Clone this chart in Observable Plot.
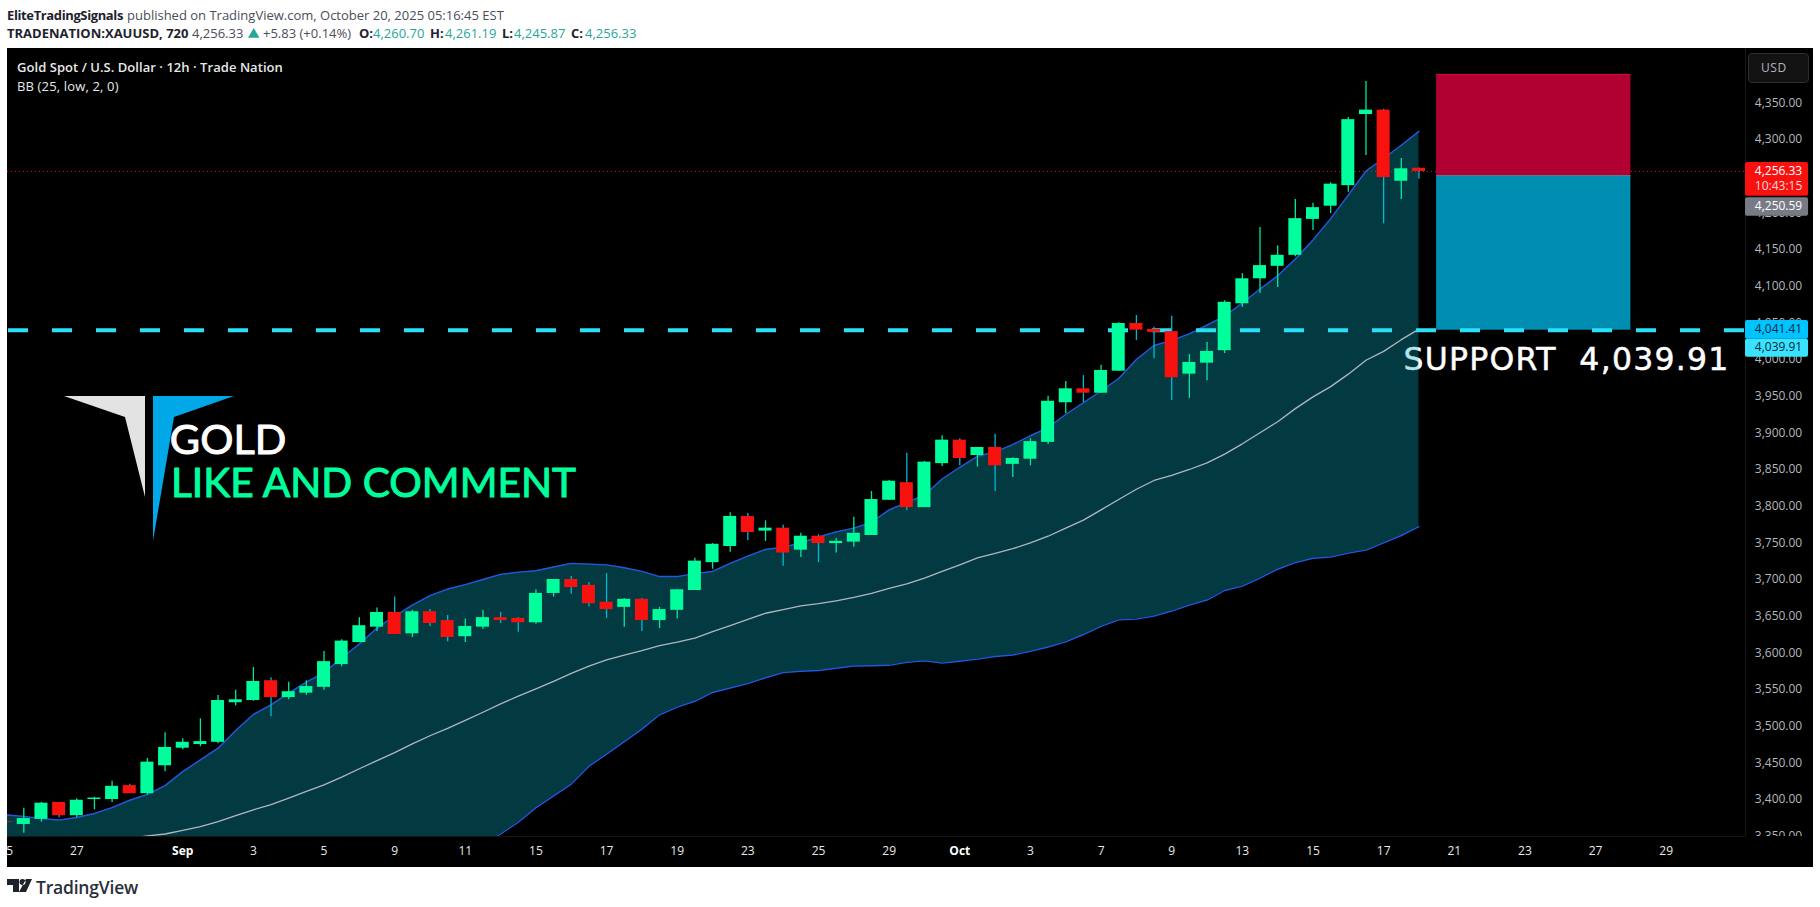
<!DOCTYPE html>
<html>
<head>
<meta charset="utf-8">
<script src="https://cdn.jsdelivr.net/npm/d3@7"></script>
<script src="https://cdn.jsdelivr.net/npm/@observablehq/plot@0.6"></script>
<style>
html,body{margin:0;padding:0;background:#fff;width:1820px;height:907px;overflow:hidden;font-family:"Open Sans",sans-serif;}
.t{position:absolute;white-space:nowrap;font-size:13px;line-height:16px;color:#4a4e59;}
.b{font-weight:700;color:#1e222d;}
.g{color:#26a69a;}
.w{color:#e8e8e8;}
#chart{position:absolute;left:7px;top:48px;width:1806px;height:819px;}
#chart svg{display:block;}
.shape{position:absolute;left:0;top:0;width:1820px;height:907px;}
#usd{position:absolute;left:1748px;top:53px;width:47px;height:28px;padding-left:12px;background:#131313;border:1px solid #2a2e30;border-radius:4px;color:#b2b5be;font-size:12px;line-height:28px;text-align:left;letter-spacing:.6px;box-sizing:content-box;}
.support text{letter-spacing:1.25px;}
</style>
</head>
<body>
<div class="t b" style="left:7px;top:7px;letter-spacing:-.38px;">EliteTradingSignals</div>
<div class="t" style="left:127px;top:7px;">published on TradingView.com, October 20, 2025 05:16:45 EST</div>
<div class="t b" style="left:7px;top:25px;">TRADENATION:XAUUSD, 720</div>
<div class="t" style="left:192px;top:25px;">4,256.33</div>
<div class="shape" style="background:#26a69a;clip-path:polygon(253.7px 28px,259.5px 37.7px,248px 37.7px);"></div>
<div class="t" style="left:263px;top:25px;">+5.83 (+0.14%)</div>
<div class="t b" style="left:359px;top:25px;">O:</div><div class="t g" style="left:373px;top:25px;">4,260.70</div>
<div class="t b" style="left:430px;top:25px;">H:</div><div class="t g" style="left:445px;top:25px;">4,261.19</div>
<div class="t b" style="left:502px;top:25px;">L:</div><div class="t g" style="left:514px;top:25px;">4,245.87</div>
<div class="t b" style="left:571px;top:25px;">C:</div><div class="t g" style="left:585px;top:25px;">4,256.33</div>

<div id="chart"></div>

<div class="t w" style="left:17px;top:59px;font-weight:600;letter-spacing:.05px;">Gold Spot / U.S. Dollar · 12h · Trade Nation</div>
<div class="t w" style="left:17px;top:78px;letter-spacing:.15px;">BB (25, low, 2, 0)</div>
<div id="usd">USD</div>

<div class="shape" style="background:#e3e3e3;clip-path:polygon(64px 396px,145px 396px,145px 497px,125px 417px);"></div>
<div class="shape" style="background:#00a8e8;clip-path:polygon(153px 396px,234px 396px,174px 417px,153px 541px);"></div>

<div class="shape" style="background:#1e222d;clip-path:path('M7 879H19V892H13V885H7ZM19.5 882a3 3 0 1 0 6 0a3 3 0 1 0 -6 0ZM26 879H32L26 892H19Z');"></div>
<div class="t" style="left:36px;top:875px;font-size:17.5px;line-height:24px;font-weight:600;color:#2a2e39;letter-spacing:-.2px;">TradingView</div>

<script>
// Bars run from index -1 (clipped at the left edge) to 79.
const opens = [3370,
  3366,3373,3396,3378,3400,3400,3419,3408,3446,3470,
  3475,3478,3532,3535,3562,3539,3545,3553,3584,3614,
  3635,3655,3626,3656,3644,3622,3635,3648,3647,3641,
  3681,3700,3692,3669,3662,3673,3644,3658,3685,3723,
  3745,3786,3766,3770,3740,3759,3749,3751,3760,3808,
  3832,3798,3858,3890,3869,3880,3857,3864,3887,3941,
  3960,3954,3984,4049,4041,4038,3980,3995,4012,4076,
  4110,4127,4142,4191,4209,4237,4334,4340,4243,4260.70];
const highs = [3371,
  3388,3396,3396,3401,3403,3425,3421,3456,3491,3483,
  3510,3542,3549,3580,3566,3560,3562,3602,3618,3648,
  3661,3676,3658,3659,3651,3646,3658,3655,3648,3686,
  3700,3704,3696,3708,3674,3674,3662,3686,3729,3749,
  3791,3790,3780,3774,3763,3761,3756,3785,3820,3835,
  3872,3861,3896,3892,3880,3898,3866,3892,3950,3970,
  3978,3992,4050,4060,4044,4059,4007,4023,4080,4117,
  4180,4155,4218,4213,4241,4330,4379,4341,4274,4261.19];
const lows = [3368,
  3354,3369,3375,3375,3386,3396,3408,3406,3438,3468,
  3472,3476,3528,3534,3513,3536,3542,3549,3581,3614,
  3629,3625,3621,3636,3615,3614,3632,3640,3628,3639,
  3676,3680,3663,3647,3635,3629,3633,3646,3685,3714,
  3737,3753,3752,3718,3730,3723,3736,3744,3760,3808,
  3794,3798,3854,3855,3853,3820,3839,3855,3884,3926,
  3941,3954,3984,4026,4001,3944,3947,3971,4008,4071,
  4090,4098,4140,4176,4199,4228,4278,4185,4218,4245.87];
const closes = [3369,
  3374,3395,3378,3399,3402,3418,3408,3451,3471,3478,
  3479,3535,3536,3561,3539,3547,3554,3588,3616,3637,
  3655,3625,3656,3640,3621,3636,3648,3644,3641,3681,
  3700,3689,3667,3659,3673,3644,3659,3686,3725,3748,
  3786,3764,3770,3736,3759,3749,3752,3763,3809,3834,
  3798,3860,3890,3865,3880,3855,3865,3888,3943,3960,
  3954,3985,4049,4040,4037,3975,3996,4011,4078,4110,
  4128,4142,4192,4207,4239,4327,4340,4248,4260,4256.33];
const bbUpper = [3379,
  3377,3374,3372,3375.5,3381,3389,3399,3407,3419,3438,
  3454,3470,3494,3516,3529,3545,3560,3573,3593,3612,
  3634,3650,3665,3678,3687,3693,3700,3707,3710,3712,
  3717,3722,3721,3720,3716,3711,3704,3704,3708,3711,
  3722,3732,3741,3744,3750,3758,3765,3770,3778,3795,
  3805,3815,3837,3853,3868,3874,3884,3896,3907,3925,
  3941,3957,3974,4000,4019,4026,4035,4047,4059,4077,
  4096,4114,4137,4163,4192,4224,4257,4274,4292,4311];
const bbBasis = [3325,
  3328,3331,3334,3337,3340,3344,3347,3350.5,3353,3358,
  3363,3370,3378,3386,3393,3402,3411,3420,3430.5,3442,
  3453,3464,3476,3487,3497,3508,3519,3530.5,3541,3551,
  3561,3572,3582,3590.5,3597,3603,3610,3614.5,3620,3629,
  3637,3645.5,3654,3659,3664,3667,3671,3675.5,3681,3688,
  3694,3702,3711,3720,3729.5,3735.5,3742,3750,3759,3770,
  3781,3795,3809,3823,3835,3842,3850,3859,3871,3885,
  3900,3915,3933,3949,3963,3980,3999,4011,4027,4041.41];
const bbLower = [3271,
  3279,3288,3296,3298,3293,3299,3295,3294,3287,3278,
  3272,3270,3262,3256,3257,3259,3262,3267,3268,3272,
  3272,3278,3287,3296,3307,3322,3338,3353,3369,3389,
  3405,3421,3445.5,3462,3479,3496,3515.5,3526,3534,3546,
  3552,3558,3566,3573,3575,3576,3579,3582,3582.5,3583,
  3587,3589,3586,3588.5,3591.5,3595,3597,3602,3608,3615,
  3625,3636,3645,3646,3650,3657,3665,3672,3685,3691,
  3702,3714,3723,3729,3730.5,3736,3740,3750,3760,3772];

const yTicks = [4350,4300,4250,4200,4150,4100,4050,4000,3950,3900,3850,3800,3750,3700,3650,3600,3550,3500,3450,3400,3350];
const xTickBars = [-1,3,13,17,21,25,29,33,37,41,45,49,57,61,65,69,73,77,81,85,89,93];
const xTickLabels = ["25","27","3","5","9","11","15","17","19","23","25","29","3","7","9","13","15","17","21","23","27","29"];
const monthBars = [9,53];
const monthLabels = ["Sep","Oct"];

const supportPrice = 4039.91;
const lastPrice = 4256.33;
const entryPrice = 4250.59;
const stopPrice = 4388.6;
const boxFromBar = 80;
const boxToBar = 91;

const tagLabels = ["4,256.33","10:43:15","4,250.59","4,041.41","4,039.91"];
const tagLabelPrices = [4256.8,4236.3,4209,4041.4,4016.8];
const tagLabelColors = ["#ffffff","#ffd9d9","#ffffff","#06283a","#06283a"];
const tagTops = [4268.6,4220.5,4053.2,4027.7];
const tagBottoms = [4222.6,4195.4,4027.7,4003.1];
const tagFills = ["#f7120f","#787b86","#00c4ff","#39e3ff"];

const barIndex = d3.range(-1, 80);
const bars = barIndex.map((i, k) => ({
  i, open: opens[k], high: highs[k], low: lows[k], close: closes[k],
  upper: bbUpper[k], basis: bbBasis[k], lower: bbLower[k]
}));
const upBars = bars.filter(d => d.close >= d.open);
const downBars = bars.filter(d => d.close < d.open);
const halfBody = 0.368;
const tickRows = xTickBars.map((b, k) => ({b, label: xTickLabels[k]}));
const monthRows = monthBars.map((b, k) => ({b, label: monthLabels[k]}));
const tagBoxes = tagTops.map((t, k) => ({top: t, bottom: tagBottoms[k], fill: tagFills[k]}));
const tagRows = tagLabels.map((label, k) => ({label, price: tagLabelPrices[k], color: tagLabelColors[k]}));

const paneRight = 97.49, axisRight = 101.06, axisEnd = 101.4, axisMid = 99.36, paneBottom = 3349.6;
const green = "#00ff9c", red = "#f7120f", wickGreen = "#00e8a0", wickRed = "#00b8d4", bandBlue = "#2158dc";

const chart = Plot.plot({
  width: 1806, height: 819,
  marginLeft: 0, marginRight: 68, marginTop: 0, marginBottom: 31,
  style: {background: "#000", fontFamily: "'Open Sans',sans-serif", overflow: "hidden"},
  x: {type: "linear", domain: [-0.923, paneRight], axis: null},
  y: {type: "linear", domain: [paneBottom, 4424], axis: null},
  marks: [
    // price scale: its lowest label is cut by the time strip
    Plot.text(yTicks, {x: () => axisMid, y: d => d, text: d => d3.format(",.2f")(d), fill: "#b4b7bd", fontSize: 12}),
    Plot.rect([0], {x1: () => paneRight, x2: () => axisEnd, y1: () => paneBottom - 40, y2: () => paneBottom, fill: "#000"}),
    Plot.ruleX([paneRight], {stroke: "#171717", strokeWidth: 1}),
    Plot.ruleY([paneBottom], {stroke: "#171717", strokeWidth: 1}),
    Plot.text(tickRows, {x: "b", y: () => paneBottom, text: "label", dy: 15, fill: "#e8e8e8", fontSize: 12}),
    Plot.text(monthRows, {x: "b", y: () => paneBottom, text: "label", dy: 15, fill: "#ffffff", fontSize: 12, fontWeight: 700}),
    // annotation sits below the translucent band
    Plot.text(["SUPPORT  4,039.91"], {x: () => 78.12, y: () => 3999.5, text: d => d, textAnchor: "start", fill: "#fff", stroke: "#fff", strokeWidth: 0.5, fontSize: 31.5, fontFamily: "'DejaVu Sans'", className: "support"}),
    Plot.text(["GOLD"], {x: () => 8.27, y: () => 3888.9, text: d => d, textAnchor: "start", fill: "#fff", stroke: "#fff", strokeWidth: 1, fontSize: 41.5, fontFamily: "Lato"}),
    Plot.text(["LIKE AND COMMENT"], {x: () => 8.33, y: () => 3830, text: d => d, textAnchor: "start", fill: green, stroke: green, strokeWidth: 1, fontSize: 40.7, fontFamily: "Lato"}),
    // Bollinger band
    Plot.areaY(bars, {x: "i", y1: "lower", y2: "upper", fill: "rgb(9,176,200)", fillOpacity: 0.33, clip: true}),
    Plot.ruleY([lastPrice], {x1: -0.923, x2: paneRight, stroke: red, strokeOpacity: 0.85, strokeWidth: 1, strokeDasharray: "1 3"}),
    Plot.line(bars, {x: "i", y: "basis", stroke: "#b2b5be", strokeWidth: 1.3, clip: true}),
    Plot.line(bars, {x: "i", y: "upper", stroke: bandBlue, strokeWidth: 1.4, clip: true}),
    Plot.line(bars, {x: "i", y: "lower", stroke: bandBlue, strokeWidth: 1.4, clip: true}),
    // position box
    Plot.rect([0], {x1: () => boxFromBar, x2: () => boxToBar, y1: () => entryPrice, y2: () => stopPrice, fill: "#b10032"}),
    Plot.rect([0], {x1: () => boxFromBar, x2: () => boxToBar, y1: () => supportPrice, y2: () => entryPrice, fill: "#008db2"}),
    Plot.ruleY([stopPrice], {x1: boxFromBar, x2: boxToBar, stroke: "#e0003c", strokeWidth: 1}),
    Plot.ruleY([entryPrice], {x1: boxFromBar, x2: boxToBar, stroke: "#787b86", strokeWidth: 1}),
    // support line
    Plot.ruleY([supportPrice], {x1: -0.923, x2: paneRight, stroke: "#2bdff5", strokeWidth: 4, strokeDasharray: "20 24", strokeDashoffset: -1}),
    // candles
    Plot.ruleX(upBars, {x: "i", y1: "low", y2: "high", stroke: wickGreen, strokeWidth: 1.3, clip: true}),
    Plot.ruleX(downBars, {x: "i", y1: "low", y2: "high", stroke: wickRed, strokeWidth: 1.3, clip: true}),
    Plot.rect(upBars, {x1: d => d.i - halfBody, x2: d => d.i + halfBody, y1: "open", y2: "close", fill: green, clip: true}),
    Plot.rect(downBars, {x1: d => d.i - halfBody, x2: d => d.i + halfBody, y1: "open", y2: "close", fill: red, clip: true}),
    // price tags
    Plot.rect(tagBoxes, {x1: () => paneRight, x2: () => axisRight, y1: "bottom", y2: "top", fill: "fill", rx: 2}),
    Plot.text(tagRows, {x: () => axisMid, y: "price", text: "label", fill: "color", fontSize: 12})
  ]
});
document.getElementById("chart").appendChild(chart);
</script>
</body>
</html>
